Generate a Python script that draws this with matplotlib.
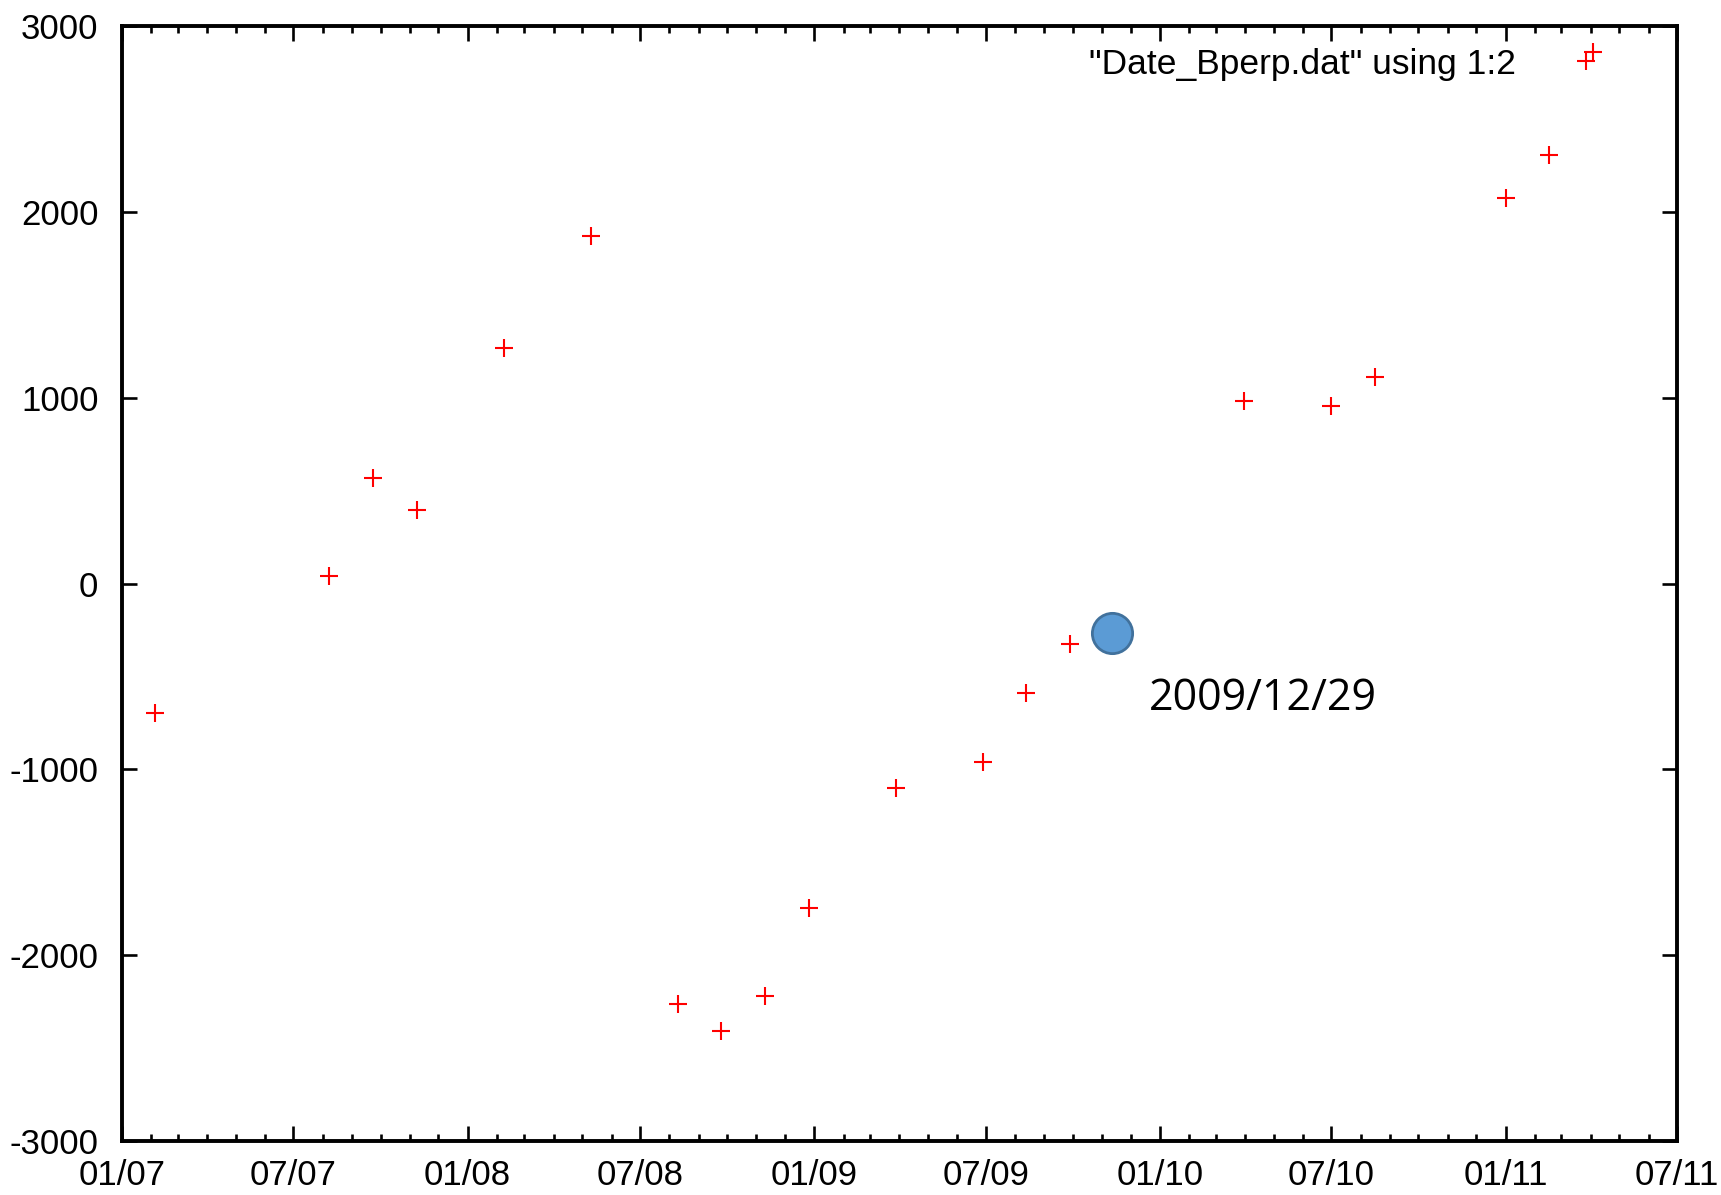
import matplotlib
matplotlib.use("Agg")
import matplotlib.pyplot as plt
import matplotlib.dates as mdates
import numpy as np
import pandas as pd

plt.rcParams["axes.unicode_minus"] = False

# ---- data ----
dates = ["2007-02-05", "2007-08-08", "2007-09-23", "2007-11-08", "2008-02-08",
         "2008-05-10", "2008-08-10", "2008-09-25", "2008-11-10", "2008-12-26",
         "2009-03-28", "2009-06-28", "2009-08-13", "2009-09-28", "2010-03-31",
         "2010-07-01", "2010-08-16", "2011-01-01", "2011-02-16", "2011-04-03"]
bperp = [-695, 38, 570, 393, 1268,
         1871, -2261, -2409, -2220, -1747,
         -1102, -961, -588, -328, 984,
         955, 1114, 2076, 2308, 2862]
highlight_date = ["2009-11-11"]
highlight_bperp = [-267]
highlight_label = "2009/12/29"
legend_label = '"Date_Bperp.dat" using 1:2'
x_start, x_end = "2007-01-01", "2011-07-01"
y_ticks = [-3000, -2000, -1000, 0, 1000, 2000, 3000]

x = pd.to_datetime(dates)
hx = pd.to_datetime(highlight_date)

fig = plt.figure(figsize=(17.21, 11.95), dpi=100)
ax = fig.add_axes([0.0709, 0.0452, 0.9035, 0.9330])

ax.plot(x, bperp, linestyle="none", marker="+", color="red", markersize=12.5,
        markeredgewidth=1.5, label=legend_label)
ax.plot(hx, highlight_bperp, linestyle="none", marker="o", markersize=29,
        markerfacecolor="#5B9BD5", markeredgecolor="#41719C", markeredgewidth=2)
ax.annotate(highlight_label, (hx[0], highlight_bperp[0]), xytext=(27, -47),
            textcoords="offset points", ha="left", va="center",
            fontsize=31, family=["Open Sans", "DejaVu Sans"], color="black")

ax.set_xlim(pd.Timestamp(x_start), pd.Timestamp(x_end))
ax.set_ylim(-3000, 3000)
ax.set_yticks(y_ticks)
ax.xaxis.set_major_locator(mdates.MonthLocator(bymonth=[1, 7]))
ax.xaxis.set_minor_locator(mdates.MonthLocator())
ax.xaxis.set_major_formatter(mdates.DateFormatter("%m/%y"))

for s in ax.spines.values():
    s.set_linewidth(2.8)
ax.tick_params(which="both", direction="in", top=True, right=True, width=1.9)
ax.tick_params(which="major", length=10.5)
ax.tick_params(which="minor", length=5.2)
ax.tick_params(axis="y", pad=17)
ax.tick_params(axis="x", pad=13)
for lab in ax.get_xticklabels() + ax.get_yticklabels():
    lab.set_fontfamily(["Liberation Sans", "DejaVu Sans"])
    lab.set_fontsize(25)

leg = ax.legend(loc="upper right", bbox_to_anchor=(0.975, 0.990), frameon=False,
                markerfirst=False,
                prop={"family": ["Liberation Sans", "DejaVu Sans"], "size": 25.5},
                handlelength=2.36, handletextpad=0.8, borderaxespad=0.1,
                borderpad=0.2)

fig.savefig("out.png", dpi=100, facecolor="white")
